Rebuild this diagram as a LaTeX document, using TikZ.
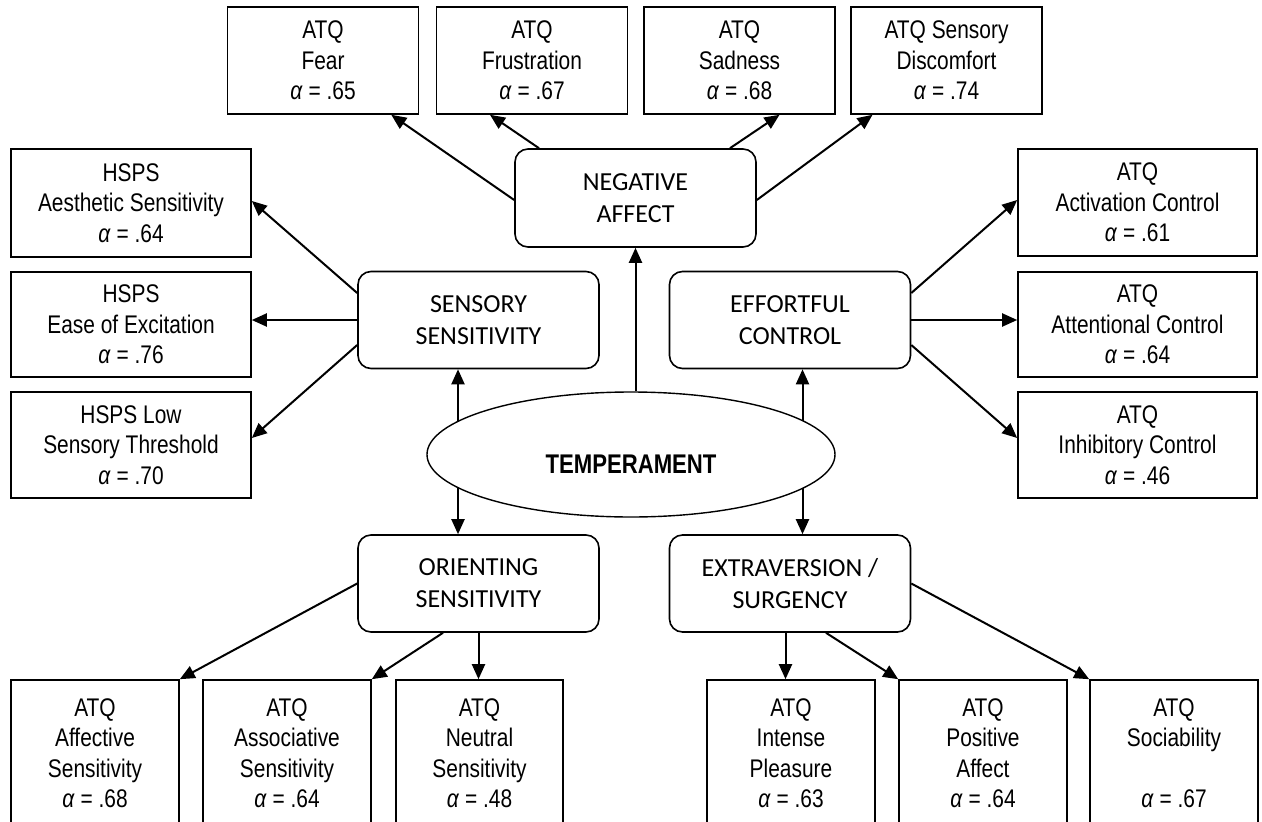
\documentclass[tikz,border=0pt]{standalone}
\usepackage{fontspec}
\setmainfont{Liberation Sans}[FakeStretch=0.82]
\newfontfamily\capfont{Carlito}
\usetikzlibrary{arrows.meta,calc,backgrounds,shapes.geometric}

% reliability coefficient line
\newcommand{\alp}[1]{\textit{α} = #1}

\begin{document}
\begin{tikzpicture}[x=1pt,y=-1pt,
  measure/.style={draw, line width=1.6pt, align=center, inner sep=0pt,
    font=\fontsize{25.5}{30.5}\selectfont},
  topbox/.style={measure, minimum width=191pt, minimum height=107pt},
  sidebox/.style={measure, minimum width=240pt},
  lowbox/.style={measure, minimum width=168pt, minimum height=146pt},
  factor/.style={draw, rounded corners=13pt, line width=1.6pt, align=center,
    inner sep=0pt, minimum width=241pt, minimum height=97pt,
    font=\capfont\fontsize{26}{32}\selectfont},
  link/.style={line width=2pt, -{Triangle[length=15pt,width=13pt]}},
  twoway/.style={line width=2pt,
    {Triangle[length=15pt,width=13pt]}-{Triangle[length=15pt,width=13pt]}}]

\useasboundingbox (0,0) rectangle (1262,822);

% negative affect indicators
\node[topbox] (fear) at (323,60.5)   {ATQ\\Fear\\\alp{.65}};
\node[topbox] (frus) at (532,60.5)   {ATQ\\Frustration\\\alp{.67}};
\node[topbox] (sad)  at (739.5,60.5) {ATQ\\Sadness\\\alp{.68}};
\node[topbox] (disc) at (946.5,60.5) {ATQ Sensory\\Discomfort\\\alp{.74}};

% sensory sensitivity indicators
\node[sidebox, minimum height=108pt] (aes)  at (131,203)   {HSPS\\Aesthetic Sensitivity\\\alp{.64}};
\node[sidebox, minimum height=105pt] (ease) at (131,324.5) {HSPS\\Ease of Excitation\\\alp{.76}};
\node[sidebox, minimum height=106pt] (low)  at (131,445)   {HSPS Low\\Sensory Threshold\\\alp{.70}};

% effortful control indicators
\node[sidebox, minimum width=239pt, minimum height=107pt] (act) at (1137.5,202.5) {ATQ\\Activation Control\\\alp{.61}};
\node[sidebox, minimum width=239pt, minimum height=105pt] (att) at (1137.5,324.5) {ATQ\\Attentional Control\\\alp{.64}};
\node[sidebox, minimum width=239pt, minimum height=106pt] (inh) at (1137.5,445)   {ATQ\\Inhibitory Control\\\alp{.46}};

% factors
\node[factor, minimum height=98pt] (neg) at (635.5,198) {NEGATIVE\\AFFECT};
\node[factor] (sens) at (478.5,320)   {SENSORY\\SENSITIVITY};
\node[factor] (eff)  at (790,320)     {EFFORTFUL\\CONTROL};
\node[factor] (ori)  at (478.5,583.5) {ORIENTING\\SENSITIVITY};
\node[factor] (ext)  at (790,583.5)   {EXTRAVERSION /\\SURGENCY};

% latent construct
\node[draw, ellipse, fill=white, line width=1.4pt, inner sep=0pt,
  minimum width=408pt, minimum height=125pt,
  font=\fontsize{27}{32}\selectfont\bfseries] (temp) at (631,454.5)
  {\raisebox{-9pt}[19pt][0pt]{TEMPERAMENT}};

% orienting and extraversion indicators
\node[lowbox] (aff) at (95,753)    {ATQ\\Affective\\Sensitivity\\\alp{.68}};
\node[lowbox] (ass) at (287,753)   {ATQ\\Associative\\Sensitivity\\\alp{.64}};
\node[lowbox, minimum width=167pt] (neu) at (479.5,753) {ATQ\\Neutral\\Sensitivity\\\alp{.48}};
\node[lowbox] (int) at (791,753)   {ATQ\\Intense\\Pleasure\\\alp{.63}};
\node[lowbox] (pos) at (983,753)   {ATQ\\Positive\\Affect\\\alp{.64}};
\node[lowbox] (soc) at (1174,753)  {ATQ\\Sociability\\\mbox{}\\\alp{.67}};

% links passing behind the ellipse
\begin{scope}[on background layer]
  \fill[white] (0,0) rectangle (1262,822);
  \draw[twoway] ($(sens.south)+(-20.5,0)$) -- ($(ori.north)+(-20.5,0)$);
  \draw[twoway] ($(eff.south)+(12.5,0)$) -- ($(ext.north)+(12.5,0)$);
\end{scope}

% temperament to negative affect
\draw[link] (neg.south |- temp.north) -- (neg.south);

% negative affect loadings
\draw[link] ($(neg.west)+(0,2)$) -- ($(fear.south east)+(-28,0)$);
\draw[link] ($(neg.north)+(-96.5,0)$) -- ($(frus.south)+(-42,0)$);
\draw[link] ($(neg.north)+(94.5,0)$) -- ($(sad.south)+(40,0)$);
\draw[link] ($(neg.east)+(0,2)$) -- ($(disc.south)+(-74,0)$);

% sensory sensitivity loadings
\draw[link] ($(sens.west)+(0,-27)$) -- ($(aes.east)+(0,-2)$);
\draw[link] (sens.west) -- (sens.west -| ease.east);
\draw[link] ($(sens.west)+(0,25)$) -- ($(low.east)+(0,-7)$);

% effortful control loadings
\draw[link] ($(eff.east)+(0,-27)$) -- ($(act.west)+(0,-2.5)$);
\draw[link] (eff.east) -- (eff.east -| att.west);
\draw[link] ($(eff.east)+(0,25)$) -- ($(inh.west)+(0,-7)$);

% orienting sensitivity loadings
\draw[link] (ori.west) -- (aff.north east);
\draw[link] ($(ori.south)+(-35.5,0)$) -- (ass.north east);
\draw[link] (ori.south) -- (ori.south |- neu.north);

% extraversion loadings
\draw[link] ($(ext.south)+(-4.5,0)$) -- ($(ext.south |- int.north)+(-4.5,0)$);
\draw[link] ($(ext.south)+(36,0)$) -- (pos.north west);
\draw[link] (ext.east) -- (soc.north west);
\end{tikzpicture}
\end{document}
